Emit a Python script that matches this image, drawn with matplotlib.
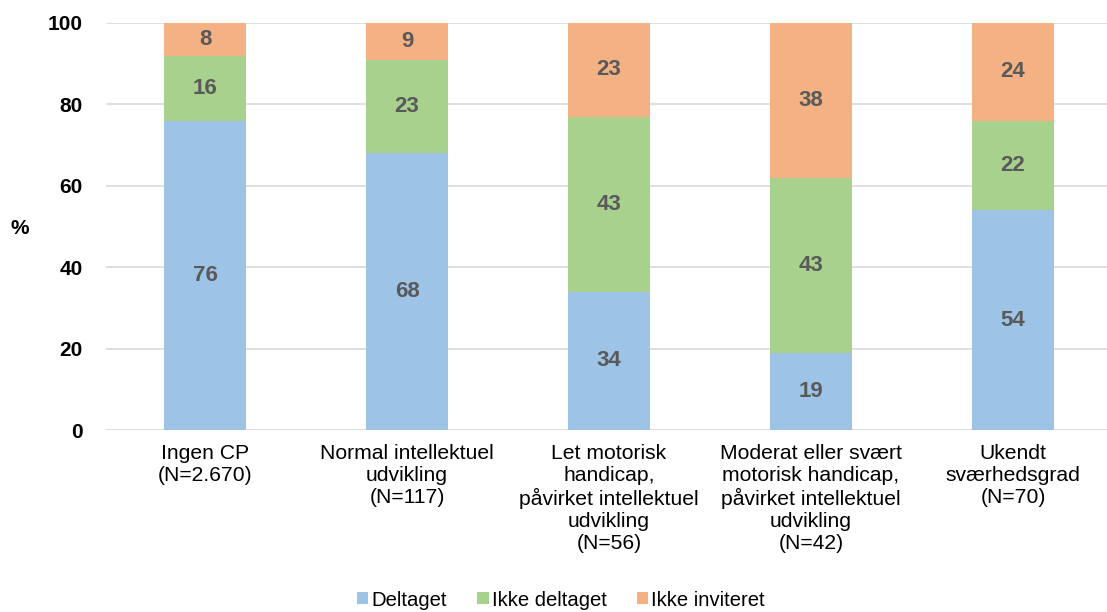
import numpy as np
import matplotlib
matplotlib.use("Agg")
import matplotlib.pyplot as plt

plt.rcParams['font.family'] = ['Liberation Sans', 'DejaVu Sans']

categories = [
    "Ingen CP\n(N=2.670)",
    "Normal intellektuel\nudvikling\n(N=117)",
    "Let motorisk\nhandicap,\npåvirket intellektuel\nudvikling\n(N=56)",
    "Moderat eller svært\nmotorisk handicap,\npåvirket intellektuel\nudvikling\n(N=42)",
    "Ukendt\nsværhedsgrad\n(N=70)",
]
deltaget = [76, 68, 34, 19, 54]
ikke_deltaget = [16, 23, 43, 43, 22]
ikke_inviteret = [8, 9, 23, 38, 24]

series = [
    ("Deltaget", deltaget, "#9DC3E6"),
    ("Ikke deltaget", ikke_deltaget, "#A9D18E"),
    ("Ikke inviteret", ikke_inviteret, "#F4B183"),
]

fig = plt.figure(figsize=(11.07, 6.12), dpi=100)
ax = fig.add_axes([106 / 1107, (612 - 430) / 612, 1001 / 1107, 407 / 612])

x = np.arange(len(categories))
bottom = np.zeros(len(categories))
for name, vals, color in series:
    vals = np.array(vals, dtype=float)
    ax.bar(x, vals, 0.41, bottom=bottom, color=color, label=name, zorder=2)
    for xi, b, v in zip(x, bottom, vals):
        ax.text(xi, b + v / 2, f"{v:.0f}", ha="center", va="center",
                fontsize=16, fontweight="bold", color="#595959", zorder=3)
    bottom += vals

ax.set_xlim(-0.49, 4.465)
ax.set_ylim(0, 100)
ax.set_yticks(range(0, 101, 20))
ax.yaxis.grid(True, color="#D9D9D9", linewidth=1.2, zorder=0)
ax.set_axisbelow(True)
for s in ax.spines.values():
    s.set_visible(False)
ax.tick_params(axis="y", length=0, pad=17, labelsize=15)
for lbl in ax.get_yticklabels():
    lbl.set_fontweight("bold")
ax.set_xticks(x)
ax.set_xticklabels(categories, fontsize=15.2, linespacing=1.2, va="top")
ax.tick_params(axis="x", length=0, pad=10)

fig.text(20 / 1107, 1 - 228 / 612, "%", fontsize=15, fontweight="bold",
         ha="center", va="center")

fig.legend(loc="center", bbox_to_anchor=(561 / 1107, 1 - 600 / 612), ncol=3,
           frameon=False, fontsize=14.6, handlelength=0.55, handleheight=0.55,
           handletextpad=0.15, columnspacing=1.5)

fig.savefig("out.png", dpi=100)
